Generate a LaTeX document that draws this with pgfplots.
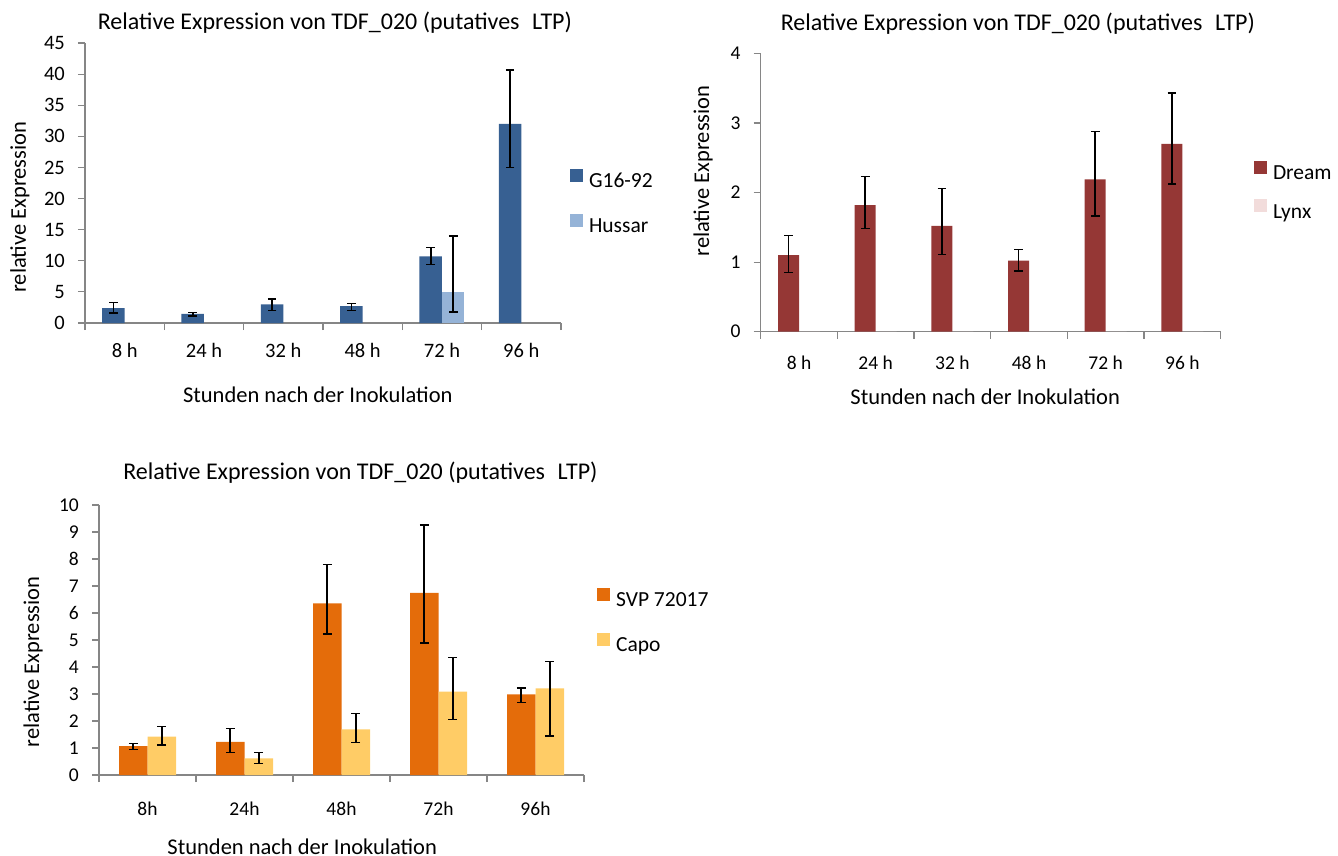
\documentclass[border=0pt]{standalone}
\usepackage{fontspec}
\setmainfont{Carlito}
\usepackage{pgfplots}
\pgfplotsset{compat=1.18}
\definecolor{axgray}{RGB}{134,134,134}
\definecolor{blueD}{RGB}{55,96,146}
\definecolor{blueL}{RGB}{149,179,215}
\definecolor{redD}{RGB}{149,55,53}
\definecolor{pinkL}{RGB}{242,220,219}
\definecolor{orangeD}{RGB}{228,108,10}
\definecolor{yellowL}{RGB}{255,204,102}
\pgfplotsset{
  excel/.style={
    scale only axis,
    axis x line=bottom, axis y line=left,
    axis line style={axgray, line width=1.2bp, -},
    tick align=outside,
    major tick length=7bp,
    minor tick length=7bp,
    every tick/.style={axgray, line width=1.2bp},
    every major x tick/.append style={draw=none},
    /pgf/number format/assume math mode=true,
    ybar=0pt,
    enlargelimits=false,
    legend style={draw=none, fill=none, inner sep=0pt, outer sep=0pt, anchor=west,
      nodes={inner sep=0pt, text height=15bp, text depth=4bp},
      font=\fontsize{21.5bp}{24bp}\selectfont,
      /tikz/every odd column/.append style={column sep=6bp}},
    legend cell align=left,
    title style={anchor=center, font=\fontsize{24bp}{27bp}\selectfont},
    xlabel style={anchor=center, font=\fontsize{22.5bp}{26bp}\selectfont},
    ylabel style={anchor=center, font=\fontsize{22.5bp}{26bp}\selectfont},
    xticklabel style={anchor=center},
    yticklabel style={anchor=east, inner sep=0pt, xshift=-13bp},
  },
  sq/.style={legend image code/.code={\fill[##1] (0bp,0.3bp) rectangle (13bp,13.3bp);}},
  eb/.style={error bars/.cd, y dir=both, y explicit,
    error bar style={line width=1.6bp, black},
    error mark options={rotate=90, mark size=4.3bp, line width=1.5bp, black}},
}
\newcommand{\ttl}{Relative Expression von TDF\_020 (putatives\hspace{0.3em} LTP)}
\begin{document}
\begin{tikzpicture}
\useasboundingbox (0,-856bp) rectangle (1338bp,0);

% ---------- top left ----------
\begin{axis}[excel,
  at={(85bp,-323bp)}, anchor=south west,
  width=476bp, height=280bp,
  bar width=22.5bp,
  xmin=-0.5, xmax=5.5, ymin=0, ymax=45,
  ytick={0,5,...,45},
  xtick={0,...,5},
  xticklabels={8 h,24 h,32 h,48 h,72 h,96 h},
  minor xtick={-0.5,0.5,...,5.5},
  xticklabel style={font=\fontsize{20.5bp}{24bp}\selectfont, yshift=-20bp},
  yticklabel style={font=\fontsize{20.5bp}{24bp}\selectfont},
  title={\ttl},
  title style={at={(axis description cs:0.525,1.05)}},
  xlabel={Stunden nach der Inokulation},
  xlabel style={at={(axis description cs:0.489,-0.257)}},
  ylabel={relative Expression},
  ylabel style={at={(axis description cs:-0.1366,0.414)}},
  legend style={at={(axis description cs:1.019,0.429)}, row sep=22bp},
]
\addplot[fill=blueD, draw=none, sq, eb] table[x=x, y=y, y error plus=ep, y error minus=em] {
x y ep em
0 2.4 0.9 0.8
1 1.45 0.25 0.35
2 3.0 0.87 0.96
3 2.7 0.42 0.66
4 10.7 1.4 1.3
5 32.0 8.7 7.0
};
\addplot[fill=blueL, draw=none, sq, eb] table[x=x, y=y, y error plus=ep, y error minus=em] {
x y ep em
4 5.0 9.0 3.2
};
\legend{G16-92, Hussar}
\end{axis}

% ---------- top right ----------
\begin{axis}[excel,
  at={(760.7bp,-331.7bp)}, anchor=south west,
  width=460bp, height=278.4bp,
  bar width=21bp,
  xmin=-0.5, xmax=5.5, ymin=0, ymax=4,
  ytick={0,1,...,4},
  xtick={0,...,5},
  xticklabels={8 h,24 h,32 h,48 h,72 h,96 h},
  minor xtick={-0.5,0.5,...,5.5},
  xticklabel style={font=\fontsize{19.5bp}{23bp}\selectfont, yshift=-24.3bp},
  yticklabel style={font=\fontsize{19.5bp}{23bp}\selectfont},
  title={\ttl},
  title style={at={(axis description cs:0.559,1.084)}},
  xlabel={Stunden nach der Inokulation},
  xlabel style={at={(axis description cs:0.488,-0.235)}},
  ylabel={relative Expression},
  ylabel style={at={(axis description cs:-0.1254,0.577)}},
  legend style={at={(axis description cs:1.0724,0.504)}, row sep=16bp},
]
\addplot[fill=redD, draw=none, sq, eb] table[x=x, y=y, y error plus=ep, y error minus=em] {
x y ep em
0 1.10 0.28 0.25
1 1.82 0.41 0.34
2 1.52 0.54 0.41
3 1.02 0.16 0.15
4 2.19 0.69 0.53
5 2.70 0.73 0.58
};
\addplot[fill=pinkL, draw=none, sq] table[x=x, y=y] {
x y
0 0
1 0
2 0
3 0
4 0
5 0
};
\legend{Dream, Lynx}
\end{axis}

% ---------- bottom ----------
\begin{axis}[excel,
  at={(99bp,-775bp)}, anchor=south west,
  width=485bp, height=270bp,
  bar width=28.5bp,
  xmin=-0.5, xmax=4.5, ymin=0, ymax=10,
  ytick={0,1,...,10},
  xtick={0,...,4},
  xticklabels={8h,24h,48h,72h,96h},
  minor xtick={-0.5,0.5,...,4.5},
  xticklabel style={font=\fontsize{19.5bp}{23bp}\selectfont, yshift=-27bp},
  yticklabel style={font=\fontsize{19.5bp}{23bp}\selectfont},
  title={\ttl},
  title style={at={(axis description cs:0.539,1.096)}},
  xlabel={Stunden nach der Inokulation},
  xlabel style={at={(axis description cs:0.419,-0.267)}},
  ylabel={relative Expression},
  ylabel style={at={(axis description cs:-0.136,0.419)}},
  legend style={at={(axis description cs:1.027,0.567)}, row sep=22bp},
]
\addplot[fill=orangeD, draw=none, sq, eb] table[x=x, y=y, y error plus=ep, y error minus=em] {
x y ep em
0 1.07 0.10 0.12
1 1.23 0.50 0.40
2 6.36 1.44 1.14
3 6.75 2.51 1.87
4 2.99 0.24 0.31
};
\addplot[fill=yellowL, draw=none, sq, eb] table[x=x, y=y, y error plus=ep, y error minus=em] {
x y ep em
0 1.42 0.37 0.31
1 0.62 0.21 0.19
2 1.69 0.59 0.48
3 3.09 1.27 1.03
4 3.21 0.99 1.77
};
\legend{SVP 72017, Capo}
\end{axis}
\end{tikzpicture}
\end{document}
